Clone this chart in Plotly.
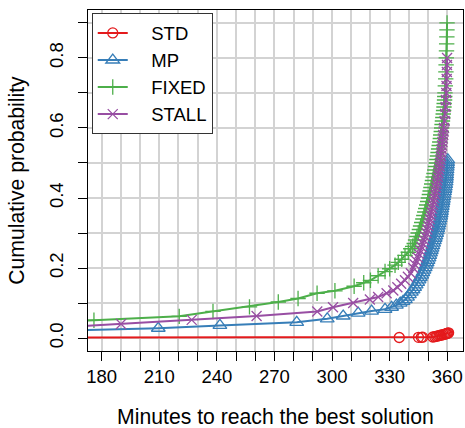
import plotly.graph_objects as go

# ---- data ----
std_x = [165, 335.0, 345.0, 346.5, 347.2, 352.5, 353.5, 354.3, 355.0, 355.8, 356.5, 357.2, 358.0, 358.7, 359.3, 359.8, 360.3, 360.7]
std_y = [0.0015, 0.0015, 0.002, 0.002, 0.0025, 0.003, 0.004, 0.005, 0.006, 0.007, 0.008, 0.009, 0.010, 0.011, 0.012, 0.013, 0.014, 0.015]

mp_x = [165, 209.5, 241.6, 281.6, 297.5, 305.8, 313.6, 320.6, 327.6, 331.0, 333.5, 335.5, 337.0,
        338.2, 339.3, 340.3, 341.3, 342.2, 343.0, 343.8, 344.6, 345.3, 346.0, 346.7, 347.3, 347.9,
        348.5, 349.0, 349.5, 350.0, 350.5, 350.9, 351.3, 351.7, 352.1, 352.5, 352.9, 353.3, 353.7,
        354.1, 354.5, 354.8, 355.1, 355.4, 355.7, 356.0, 356.3, 356.6, 356.8, 357.0, 357.2, 357.4,
        357.6, 357.8, 358.0, 358.2, 358.4, 358.6, 358.8, 359.0, 359.2, 359.4, 359.5, 359.6, 359.7,
        359.8, 359.9, 360.0, 360.1, 360.2, 360.3]
mp_y = [0.022, 0.028, 0.036, 0.045, 0.055, 0.063, 0.071, 0.077, 0.082, 0.088, 0.094, 0.100, 0.105,
        0.110, 0.117, 0.124, 0.131, 0.138, 0.145, 0.152, 0.159, 0.166, 0.173, 0.180, 0.187, 0.194,
        0.201, 0.208, 0.215, 0.222, 0.229, 0.236, 0.243, 0.250, 0.257, 0.264, 0.271, 0.278, 0.285,
        0.292, 0.299, 0.306, 0.313, 0.320, 0.327, 0.334, 0.341, 0.348, 0.355, 0.362, 0.369, 0.376,
        0.383, 0.390, 0.397, 0.404, 0.411, 0.418, 0.425, 0.432, 0.439, 0.446, 0.453, 0.460, 0.467,
        0.474, 0.481, 0.488, 0.495, 0.502, 0.509]

fixed_x = [165, 176.0, 220.4, 238.0, 257.0, 272.0, 282.3, 292.2, 301.5, 311.5, 316.5, 320.0, 324.0,
           327.6, 330.0, 332.8, 334.5, 336.3, 338.0, 339.7, 341.0, 342.0,
           342.8, 343.5, 344.2, 344.9, 345.5, 346.1, 346.7, 347.3, 347.8, 348.3, 348.8, 349.3, 349.8,
           350.2, 350.7, 351.1, 351.5, 351.9, 352.3, 352.7, 353.1, 353.5, 353.9, 354.3, 354.6, 354.9,
           355.2, 355.5, 355.8, 356.1, 356.4, 356.6, 356.9, 357.1, 357.3, 357.5, 357.7, 357.9, 358.1,
           358.3, 358.4, 358.6, 358.7, 358.8, 359.0, 359.2, 359.3, 359.4, 359.5, 359.6, 359.7, 359.8,
           359.85, 359.9]
fixed_y = [0.049, 0.051, 0.062, 0.076, 0.089, 0.103, 0.113, 0.128, 0.135, 0.148, 0.158, 0.165, 0.178,
           0.190, 0.198, 0.208, 0.216, 0.225, 0.236, 0.245, 0.255, 0.262,
           0.27, 0.28, 0.29, 0.30, 0.31, 0.32, 0.33, 0.34, 0.35, 0.36, 0.37, 0.38, 0.39,
           0.40, 0.41, 0.42, 0.43, 0.44, 0.45, 0.46, 0.47, 0.48, 0.49, 0.50, 0.51, 0.52,
           0.53, 0.54, 0.55, 0.56, 0.57, 0.58, 0.59, 0.60, 0.61, 0.62, 0.63, 0.64, 0.65,
           0.66, 0.67, 0.68, 0.69, 0.70, 0.72, 0.74, 0.76, 0.78, 0.80, 0.82, 0.84, 0.86,
           0.88, 0.90]

stall_x = [165, 190.1, 226.9, 260.7, 292.3, 300.5, 311.0, 319.7, 324.0, 328.4, 331.9, 334.0, 336.0,
           338.0, 339.5, 341.0, 342.3,
           343.1, 343.9, 344.6, 345.3, 346.0, 346.6, 347.2, 347.8, 348.5, 349.1, 349.6, 350.1, 350.5,
           350.9, 351.3, 351.7, 352.1, 352.5, 352.9, 353.2, 353.6, 353.9, 354.2, 354.5, 354.8, 355.1,
           355.4, 355.7, 356.0, 356.2, 356.5, 356.7, 356.9, 357.1, 357.3, 357.5, 357.7, 357.9, 358.1,
           358.3, 358.6, 358.9, 359.1, 359.3, 359.5, 359.6, 359.7, 359.8, 359.85, 359.9]
stall_y = [0.033, 0.040, 0.052, 0.063, 0.076, 0.088, 0.100, 0.110, 0.117, 0.128, 0.136, 0.145, 0.155,
           0.165, 0.175, 0.185, 0.200,
           0.21, 0.22, 0.23, 0.24, 0.25, 0.26, 0.27, 0.28, 0.29, 0.30, 0.31, 0.32, 0.33,
           0.34, 0.35, 0.36, 0.37, 0.38, 0.39, 0.40, 0.41, 0.42, 0.43, 0.44, 0.45, 0.46,
           0.47, 0.48, 0.49, 0.50, 0.51, 0.52, 0.53, 0.54, 0.55, 0.56, 0.57, 0.58, 0.59,
           0.60, 0.62, 0.64, 0.66, 0.68, 0.70, 0.72, 0.74, 0.76, 0.78, 0.80]

x_tick_vals = [180, 190, 200, 210, 220, 230, 240, 250, 260, 270, 280, 290, 300, 310, 320, 330, 340, 350, 360]
x_tick_text = ["180", "", "", "210", "", "", "240", "", "", "270", "", "", "300", "", "", "330", "", "", "360"]
y_tick_vals = [0.0, 0.1, 0.2, 0.3, 0.4, 0.5, 0.6, 0.7, 0.8, 0.9]
y_tick_text = ["0.0", "", "0.2", "", "0.4", "", "0.6", "", "0.8", ""]

series_names = ["STD", "MP", "FIXED", "STALL"]
series_colors = ["#E41A1C", "#377EB8", "#4DAF4A", "#984EA3"]

series = [
    (series_names[0], std_x, std_y, series_colors[0], "circle-open", 10),
    (series_names[1], mp_x, mp_y, series_colors[1], "triangle-up-open", 12),
    (series_names[2], fixed_x, fixed_y, series_colors[2], "cross-thin-open", 11),
    (series_names[3], stall_x, stall_y, series_colors[3], "x-thin-open", 10),
]

FONT = "Liberation Sans, Arial, Helvetica, sans-serif"
PAD = "\u2002\u2002"  # gap between legend symbol and label, as in the reference

fig = go.Figure()
for name, xs, ys, col, sym, sz in series:
    fig.add_trace(go.Scatter(
        x=xs, y=ys, name=PAD + name, mode="lines+markers",
        line=dict(color=col, width=2),
        marker=dict(symbol=sym, size=sz, color=col, line=dict(color=col, width=1.3)),
    ))

axis_common = dict(
    showgrid=True, gridcolor="#d3d3d3", gridwidth=1.5,
    showline=True, linecolor="black", linewidth=1, mirror=True,
    ticks="outside", ticklen=9, tickcolor="black", tickwidth=1,
    zeroline=False, tickfont=dict(size=18.5, color="black", family=FONT),
    tickmode="array",
)

fig.update_layout(
    width=465, height=428,
    margin=dict(l=88, r=2, t=10, b=77),
    paper_bgcolor="white", plot_bgcolor="white",
    font=dict(family=FONT, color="black", size=18.5),
    xaxis=dict(range=[172.9, 368.2], tickvals=x_tick_vals, ticktext=x_tick_text,
               title=dict(text="Minutes to reach the best solution",
                          font=dict(size=21.2, family=FONT, color="black"), standoff=22),
               **axis_common),
    yaxis=dict(range=[-0.037, 0.937], tickvals=y_tick_vals, ticktext=y_tick_text, tickangle=-90,
               ticklabelstandoff=8,
               title=dict(text="Cumulative probability",
                          font=dict(size=21.2, family=FONT, color="black"), standoff=15),
               **axis_common),
    legend=dict(x=0.01, y=0.99, xanchor="left", yanchor="top",
                bgcolor="white", bordercolor="#333333", borderwidth=1,
                font=dict(size=18.5, family=FONT, color="black")),
    showlegend=True,
)

fig.write_html("out.html")
